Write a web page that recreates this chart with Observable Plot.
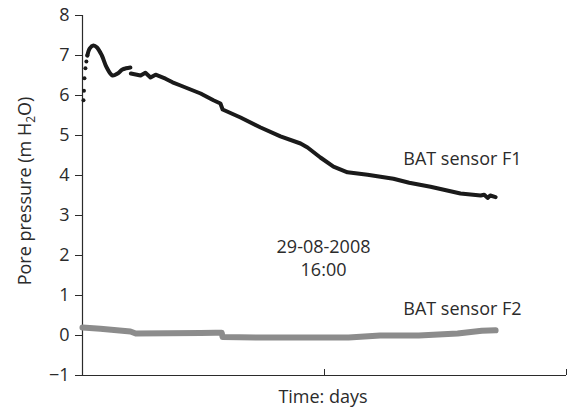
<!DOCTYPE html>
<html>
<head>
<meta charset="utf-8">
<script src="https://cdn.jsdelivr.net/npm/d3@7"></script>
<script src="https://cdn.jsdelivr.net/npm/@observablehq/plot@0.6"></script>
<style>
  html, body { margin: 0; padding: 0; background: #fff; }
  #chart svg { display: block; }
</style>
</head>
<body>
<div id="chart"></div>
<script>
// Time in days (arbitrary units, 0..20), pressure in m H2O
const yTicks = [-1, 0, 1, 2, 3, 4, 5, 6, 7, 8];
const xTicks = [10, 20];

// BAT sensor F1: initial scattered readings
const f1StartT = [0.04, 0.06, 0.08, 0.12, 0.16, 0.2];
const f1StartV = [5.88, 6.12, 6.43, 6.68, 6.85, 7.0];

// BAT sensor F1: continuous record (two segments, gap at a reset)
const f1aT = [0.2, 0.3, 0.45, 0.6, 0.8, 1.0, 1.24, 1.45, 1.65, 1.8, 1.98];
const f1aV = [7.0, 7.18, 7.25, 7.2, 7.0, 6.7, 6.5, 6.55, 6.65, 6.68, 6.7];
const f1bT = [2.0, 2.4, 2.6, 2.81, 3.02, 3.43, 3.72, 4.05, 4.88, 5.41, 5.7, 5.79, 6.53, 7.36, 8.18, 9.01, 9.3, 9.83, 10.37, 10.95, 11.78, 12.85, 13.5, 14.38, 15.62, 16.45, 16.6, 16.74, 16.85, 17.07];
const f1bV = [6.55, 6.5, 6.57, 6.45, 6.52, 6.42, 6.33, 6.25, 6.05, 5.88, 5.8, 5.65, 5.45, 5.2, 4.98, 4.8, 4.7, 4.45, 4.22, 4.08, 4.02, 3.92, 3.82, 3.72, 3.55, 3.5, 3.52, 3.44, 3.5, 3.46];

// BAT sensor F2
const f2T = [0, 0.74, 1.98, 2.2, 4.88, 5.5, 5.75, 5.79, 7.36, 9.0, 11.0, 12.3, 13.9, 15.5, 16.5, 17.07];
const f2V = [0.2, 0.17, 0.1, 0.05, 0.06, 0.07, 0.07, -0.04, -0.05, -0.05, -0.05, 0.0, 0.0, 0.05, 0.12, 0.13];

// Annotations
const labels = ["BAT sensor F1", "BAT sensor F2", "29-08-2008\n16:00"];
const labelT = [15.7, 15.7, 9.96];
const labelV = [4.45, 0.7, 1.96];

const zip = (ts, vs) => ts.map((t, i) => ({t, v: vs[i]}));
const f1Start = zip(f1StartT, f1StartV);
const f1a = zip(f1aT, f1aV);
const f1b = zip(f1bT, f1bV);
const f2 = zip(f2T, f2V);
const ann = labels.map((s, i) => ({s, t: labelT[i], v: labelV[i]}));

const font = "'Open Sans', 'Noto Sans', sans-serif";
const ink = "#2b2b2b";

const chart = Plot.plot({
  width: 568,
  height: 409,
  marginLeft: 82,
  marginRight: 2,
  marginTop: 15,
  marginBottom: 34,
  style: {fontFamily: font, fontSize: "18px", color: ink, background: "#fff"},
  x: {domain: [0, 20], label: null},
  y: {domain: [-1, 8], label: null},
  marks: [
    Plot.axisY(yTicks, {tickSize: 7, tickPadding: 6, fontSize: 18, label: null}),
    Plot.axisX(xTicks, {tickSize: -6, tickFormat: () => "", label: null}),
    Plot.ruleX([0], {stroke: ink, strokeWidth: 1.2}),
    Plot.ruleY([-1], {stroke: ink, strokeWidth: 1.2}),
    Plot.line(f2, {x: "t", y: "v", stroke: "#8c8c8c", strokeWidth: 6, curve: "linear"}),
    Plot.line(f1a, {x: "t", y: "v", stroke: "#1a1a1a", strokeWidth: 4, curve: "catmull-rom"}),
    Plot.line(f1b, {x: "t", y: "v", stroke: "#1a1a1a", strokeWidth: 4, curve: "linear"}),
    Plot.dot(f1Start, {x: "t", y: "v", r: 2, fill: "#1a1a1a", stroke: null}),
    Plot.text(ann, {x: "t", y: "v", text: "s", fontSize: 18, fill: ink, lineHeight: 1.3})
  ]
});

const svg = d3.select(chart);
// x axis title
svg.append("text")
  .attr("x", 323).attr("y", 403)
  .attr("text-anchor", "middle")
  .attr("font-family", font).attr("font-size", 18).attr("fill", ink)
  .text("Time: days");
// y axis title with subscript
const yt = svg.append("text")
  .attr("transform", "translate(31,191) rotate(-90)")
  .attr("text-anchor", "middle")
  .attr("font-family", font).attr("font-size", 18).attr("fill", ink);
yt.append("tspan").text("Pore pressure (m H");
yt.append("tspan").attr("font-size", 12).attr("dy", 4).text("2");
yt.append("tspan").attr("dy", -4).text("O)");

document.getElementById("chart").appendChild(chart);
</script>
</body>
</html>
